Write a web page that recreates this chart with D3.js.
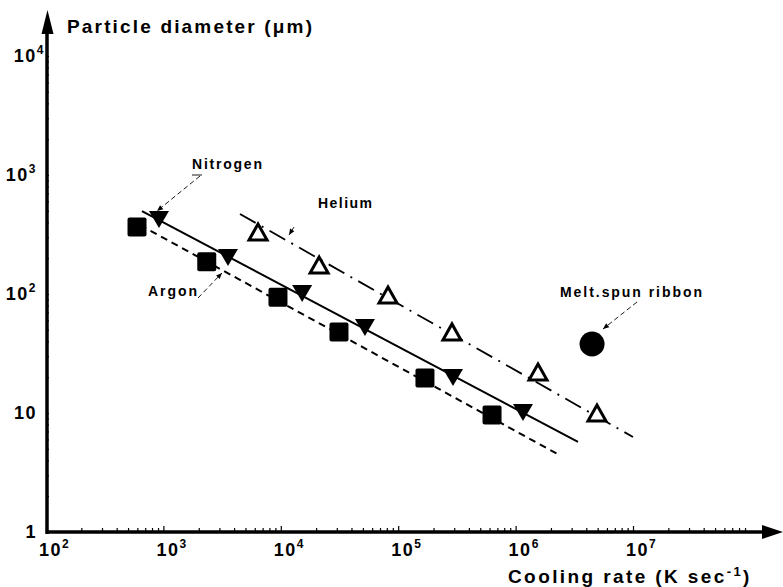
<!DOCTYPE html>
<html><head><meta charset="utf-8">
<script src="https://cdn.jsdelivr.net/npm/d3@7"></script>
<style>
html,body{margin:0;padding:0;background:#fff;}
svg{display:block;font-family:"Liberation Sans",Arial,sans-serif;}
</style></head>
<body><svg id="c" width="783" height="587"></svg>
<script>
// ---- data ----
const argonX = [596, 2340, 9460, 31300, 169000, 630000];
const argonY = [366, 187, 94, 48, 19.7, 9.6];
const nitrogenX = [917, 3550, 15200, 52100, 293000, 1156000];
const nitrogenY = [427, 205, 102, 52.8, 20.1, 10.2];
const heliumX = [6400, 21200, 81900, 287000, 1552000, 4935000];
const heliumY = [332, 175, 98, 48, 22.1, 10];
const ribbonX = [4480000];
const ribbonY = [38];
const argonFitX = [632, 2390000];
const argonFitY = [380, 4.4];
const nitrogenFitX = [657, 3400000];
const nitrogenFitY = [498, 5.71];
const heliumFitX = [4490, 10000000];
const heliumFitY = [470, 6.29];
const xTickExp = [2, 3, 4, 5, 6, 7];
const yTickExp = [0, 1, 2, 3, 4];
const yTickLabels = ["1", "10", "10", "10", "10"];
const ySup = ["", "", "2", "3", "4"];

const svg = d3.select("#c");
const x = d3.scaleLog().domain([1e2, 1e7]).range([46, 633]);
const y = d3.scaleLog().domain([1, 1e4]).range([532, 56]);

// minor ticks
const xMinor = [], yMinor = [];
for (let e = 2; e <= 7; e++) for (let m = 1; m <= 9; m++) { const v = m * Math.pow(10, e); if (x(v) < 765) xMinor.push(v); }
for (let e = 0; e <= 3; e++) for (let m = 1; m <= 9; m++) yMinor.push(m * Math.pow(10, e));
yMinor.push(1e4);

const gx = svg.append("g").attr("transform", "translate(0,532)")
  .call(d3.axisTop(x).tickValues(xMinor).tickSize(4).tickFormat(""));
gx.select(".domain").remove();
gx.selectAll(".tick line").attr("stroke-width", 1.2)
  .attr("y2", d => (Math.abs(Math.log10(d) - Math.round(Math.log10(d))) < 1e-6) ? -6 : -4);
const gy = svg.append("g").attr("transform", "translate(46,0)")
  .call(d3.axisRight(y).tickValues(yMinor).tickSize(3).tickFormat(""));
gy.select(".domain").remove();
gy.selectAll(".tick line").attr("stroke-width", 1.2);

// axis lines with arrows
svg.append("line").attr("x1", 46).attr("x2", 766).attr("y1", 532).attr("y2", 532).attr("stroke", "#000").attr("stroke-width", 3.5);
svg.append("path").attr("d", "M783,532 L762,525 L762,539 Z").attr("fill", "#000");
svg.append("line").attr("x1", 47).attr("x2", 47).attr("y1", 534).attr("y2", 30).attr("stroke", "#000").attr("stroke-width", 3.5);
svg.append("path").attr("d", "M47.5,10 L41.5,34 L53.5,34 Z").attr("fill", "#000");

// tick labels
const lab = svg.append("g").attr("fill", "#000").attr("font-weight", "bold");
xTickExp.forEach(e => {
  const t = lab.append("text").attr("x", x(Math.pow(10, e)) - 7).attr("y", 556).attr("font-size", 18).attr("letter-spacing", 1.5);
  t.append("tspan").text("10");
  t.append("tspan").attr("font-size", 12).attr("dy", -8).text(e);
});
yTickExp.forEach((e, i) => {
  const t = lab.append("text").attr("x", e === 4 ? 45 : 37).attr("y", y(Math.pow(10, e)) + 6).attr("text-anchor", "end").attr("font-size", 18).attr("letter-spacing", 1.5);
  t.append("tspan").text(yTickLabels[i]);
  if (ySup[i]) t.append("tspan").attr("font-size", 12).attr("dy", -8).text(ySup[i]);
});

// axis titles
svg.append("text").attr("x", 67).attr("y", 33).attr("font-size", 19).attr("font-weight", "bold")
  .attr("textLength", 245).attr("lengthAdjust", "spacing").text("Particle diameter (μm)");
const xt = svg.append("text").attr("x", 508).attr("y", 583).attr("font-size", 19).attr("font-weight", "bold").attr("letter-spacing", 2.4);
xt.append("tspan").text("Cooling rate (K sec");
xt.append("tspan").attr("font-size", 13).attr("dy", -7).text("-1");
xt.append("tspan").attr("dy", 7).text(")");

// fit lines
const line = d3.line().x(d => x(d[0])).y(d => y(d[1]));
svg.append("path").attr("d", line(d3.zip(nitrogenFitX, nitrogenFitY))).attr("stroke", "#000").attr("stroke-width", 2).attr("fill", "none");
svg.append("path").attr("d", line(d3.zip(argonFitX, argonFitY))).attr("stroke", "#000").attr("stroke-width", 2).attr("fill", "none").attr("stroke-dasharray", "7,5");
svg.append("path").attr("d", line(d3.zip(heliumFitX, heliumFitY))).attr("stroke", "#000").attr("stroke-width", 1.8).attr("fill", "none").attr("stroke-dasharray", "18,7,2,7");

// markers
svg.append("g").selectAll("rect").data(d3.zip(argonX, argonY)).join("rect")
  .attr("x", d => x(d[0]) - 9.5).attr("y", d => y(d[1]) - 9.5).attr("width", 19).attr("height", 19).attr("rx", 2).attr("fill", "#000");
svg.append("g").selectAll("path").data(d3.zip(nitrogenX, nitrogenY)).join("path")
  .attr("transform", d => `translate(${x(d[0])},${y(d[1])})`).attr("d", "M-10,-8 L10,-8 L0,9 Z").attr("fill", "#000");
svg.append("g").selectAll("path").data(d3.zip(heliumX, heliumY)).join("path")
  .attr("transform", d => `translate(${x(d[0])},${y(d[1])})`).attr("d", "M-9,8 L9,8 L0,-8 Z")
  .attr("fill", "#fff").attr("stroke", "#000").attr("stroke-width", 3);
svg.append("g").selectAll("circle").data(d3.zip(ribbonX, ribbonY)).join("circle")
  .attr("cx", d => x(d[0])).attr("cy", d => y(d[1])).attr("r", 12.5).attr("fill", "#000");

// annotations
const ann = svg.append("g").attr("font-weight", "bold").attr("font-size", 14);
ann.append("text").attr("x", 192).attr("y", 169).attr("textLength", 70).attr("lengthAdjust", "spacing").text("Nitrogen");
ann.append("text").attr("x", 318).attr("y", 208).attr("textLength", 54).attr("lengthAdjust", "spacing").text("Helium");
ann.append("text").attr("x", 148).attr("y", 296).attr("textLength", 49).attr("lengthAdjust", "spacing").text("Argon");
ann.append("text").attr("x", 560).attr("y", 297).attr("textLength", 142).attr("lengthAdjust", "spacing").text("Melt.spun ribbon");

function leader(x1, y1, x2, y2) {
  svg.append("line").attr("x1", x1).attr("y1", y1).attr("x2", x2).attr("y2", y2)
    .attr("stroke", "#000").attr("stroke-width", 0.9).attr("stroke-dasharray", "5,3");
  const a = Math.atan2(y2 - y1, x2 - x1);
  const L = 6, W = 2.5;
  const p = [[x2, y2],
    [x2 - L * Math.cos(a) + W * Math.sin(a), y2 - L * Math.sin(a) - W * Math.cos(a)],
    [x2 - L * Math.cos(a) - W * Math.sin(a), y2 - L * Math.sin(a) + W * Math.cos(a)]];
  svg.append("path").attr("d", "M" + p.join("L") + "Z").attr("fill", "#000");
}
leader(200, 176, 157, 211);
svg.append("line").attr("x1", 192).attr("x2", 202).attr("y1", 175).attr("y2", 175).attr("stroke", "#000").attr("stroke-width", 0.9);
leader(198, 298, 222, 273);
leader(294, 227, 289, 235);
leader(637, 302, 603, 329);
</script></body></html>
